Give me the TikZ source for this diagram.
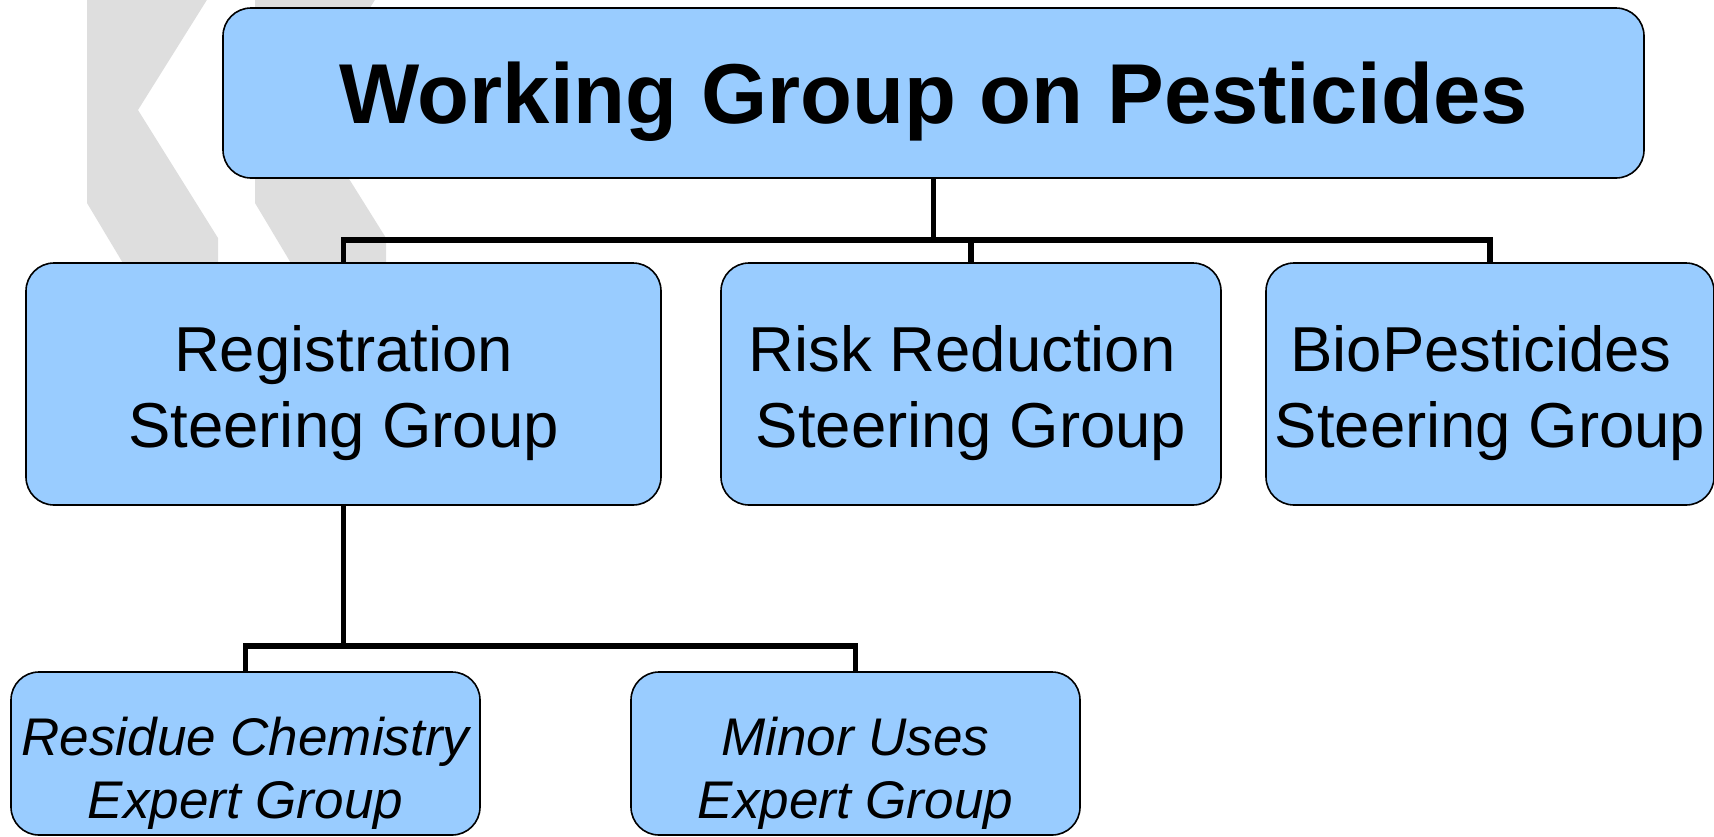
\documentclass[tikz,border=0pt]{standalone}
\usepackage{fontspec}
\setmainfont{Liberation Sans}
\usetikzlibrary{calc}
\definecolor{boxblue}{RGB}{153,204,255}
\definecolor{chevgrey}{RGB}{222,222,222}

\begin{document}
\begin{tikzpicture}[x=1pt,y=-1pt,
	grp/.style={draw=black,line width=1.6pt,fill=boxblue,rounded corners=28pt,inner sep=0pt,align=center},
	link/.style={line width=5.5pt},
	]
	%%%%% START %%%%%
	\def\W{1714}
	\def\H{836}
	\def\ytop{93}
	\def\ymid{384}
	\def\ylow{753.5}
	\def\ybarA{240}
	\def\ybarB{646}
	\def\hmid{242pt}
	\def\hlow{163pt}
	% struts that push the text a bit down in its box
	\def\strtop{\rule{0pt}{80pt}}
	\def\strmid{\rule{0pt}{63.8pt}}
	\def\strlow{\rule{0pt}{77pt}}
	
	\useasboundingbox (0,0) rectangle (\W,\H);
	
	% grey chevrons in the back
	\foreach \dx in {0,168}
		\fill[chevgrey] ({87+\dx},-5) -- ({87+\dx},203) -- ({218+\dx},422) -- ({218+\dx},238)
			-- ({138+\dx},110) -- ({210+\dx},-5) -- cycle;
	
	\node[grp,minimum width=1421pt,minimum height=170pt,font=\fontsize{85}{100}\bfseries\selectfont] (wgp) at (933.5,\ytop) {\strtop Working Group on Pesticides};
	
	\node[grp,minimum width=635pt,minimum height=\hmid,font=\fontsize{63.5}{76.5}\selectfont] (reg) at (343.5,\ymid) {\strmid Registration\\Steering Group};
	\node[grp,minimum width=500pt,minimum height=\hmid,font=\fontsize{63.5}{76.5}\selectfont] (risk) at (971,\ymid) {\strmid Risk Reduction\kern.28em\\Steering Group};
	\node[grp,minimum width=448pt,minimum height=\hmid,font=\fontsize{63.5}{76.5}\selectfont] (bio) at (1490,\ymid) {\strmid BioPesticides\kern.28em\\Steering Group};
	
	\node[grp,minimum width=469pt,minimum height=\hlow,font=\fontsize{53}{63}\itshape\selectfont] (res) at (245.5,\ylow) {\strlow Residue Chemistry\\Expert Group};
	\node[grp,minimum width=449pt,minimum height=\hlow,font=\fontsize{53}{63}\itshape\selectfont] (minor) at (855.5,\ylow) {\strlow Minor Uses\\Expert Group};
	
	\coordinate (busA) at (933.5,\ybarA);
	\coordinate (busB) at (343.5,\ybarB);
	
	\draw[link] (wgp.south) -- (busA);
	\draw[link] (reg.north) |- (busA) -| (bio.north);
	\draw[link] (risk.north) -- (risk.north |- busA);
	
	\draw[link] (reg.south) -- (busB);
	\draw[link] (res.north) |- (busB) -| (minor.north);
	%%%%% END %%%%%
\end{tikzpicture}
\end{document}
